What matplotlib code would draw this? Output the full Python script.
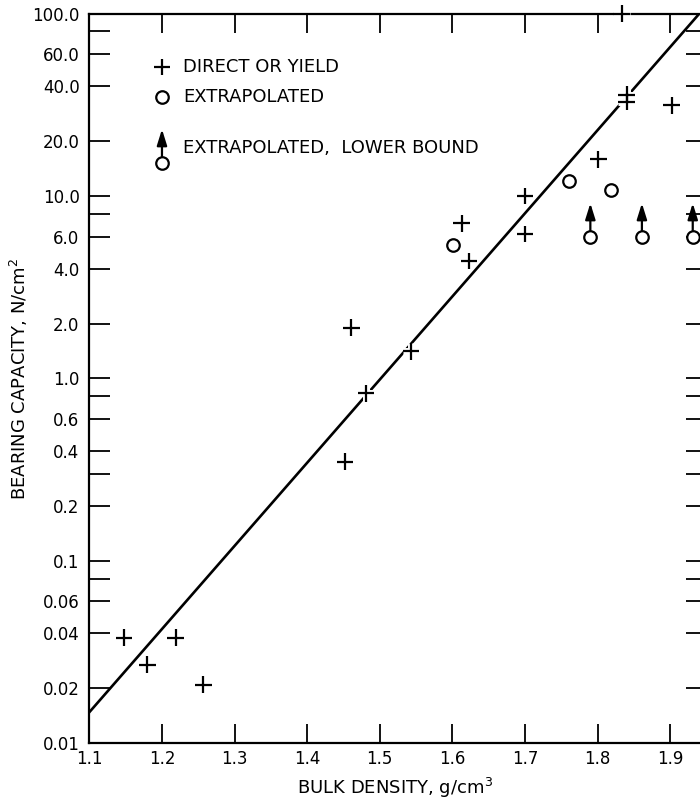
import matplotlib
matplotlib.use("Agg")
import matplotlib.pyplot as plt
import matplotlib.patheffects as pe
from matplotlib.transforms import ScaledTranslation

# measured points, bulk density (g/cm3) vs bearing capacity (N/cm2)
direct_x = [1.148, 1.180, 1.219, 1.257, 1.452, 1.461, 1.481, 1.543, 1.613,
            1.623, 1.700, 1.700, 1.801, 1.833, 1.840, 1.840, 1.902]
direct_y = [0.038, 0.027, 0.038, 0.021, 0.35, 1.90, 0.83, 1.41, 7.1,
            4.4, 10.0, 6.2, 15.9, 100.0, 36.0, 33.0, 31.4]

extrap_x = [1.601, 1.761, 1.819]
extrap_y = [5.4, 12.1, 10.8]

lower_x = [1.790, 1.861, 1.931]
lower_y = [6.0, 6.0, 6.0]

# fitted line end points
fit_x = [1.10, 1.94]
fit_y = [0.0148, 100.0]

x_ticks = [1.1, 1.2, 1.3, 1.4, 1.5, 1.6, 1.7, 1.8, 1.9]
y_ticks = [100, 60, 40, 20, 10, 6, 4, 2, 1, 0.6, 0.4, 0.2, 0.1, 0.06, 0.04, 0.02, 0.01]
y_tick_labels = ["100.0", "60.0", "40.0", "20.0", "10.0", "6.0", "4.0", "2.0", "1.0",
                 "0.6", "0.4", "0.2", "0.1", "0.06", "0.04", "0.02", "0.01"]
y_minor = [80, 8, 0.8, 0.3, 0.08]

plt.rcParams['font.family'] = ['DejaVu Sans']

fig = plt.figure(figsize=(7, 8.11), dpi=100)
ax = fig.add_axes([89.3 / 700, (811 - 743.3) / 811, (700 - 89.3) / 700, 729.6 / 811])

halo = [pe.Stroke(linewidth=5, foreground='white'), pe.Normal()]

ax.plot(fit_x, fit_y, color='black', linewidth=1.9, zorder=2)
ax.plot(direct_x, direct_y, linestyle='none', marker='+', markersize=12,
        markeredgewidth=1.6, color='black', clip_on=False, zorder=4,
        path_effects=halo)
ax.plot(extrap_x, extrap_y, linestyle='none', marker='o', markersize=9,
        markeredgewidth=1.6, markerfacecolor='white', color='black', zorder=3)
ax.plot(lower_x, lower_y, linestyle='none', marker='o', markersize=9,
        markeredgewidth=1.6, markerfacecolor='white', color='black',
        clip_on=False, zorder=3)

arrow_props = dict(arrowstyle='-|>,head_length=0.8,head_width=0.25',
                   mutation_scale=12, color='black', lw=1.6,
                   shrinkA=0, shrinkB=0)
tip = ax.transData + ScaledTranslation(0, 24 / 72, fig.dpi_scale_trans)
base = ax.transData + ScaledTranslation(0, 4.5 / 72, fig.dpi_scale_trans)
for x, y in zip(lower_x, lower_y):
    ax.annotate('', xy=(x, y), xycoords=tip, xytext=(x, y), textcoords=base,
                arrowprops=arrow_props, annotation_clip=False)

# legend drawn by hand
ax.plot([0.119], [0.927], transform=ax.transAxes, marker='+', markersize=12,
        markeredgewidth=1.6, color='black')
ax.plot([0.119], [0.886], transform=ax.transAxes, marker='o', markersize=9,
        markeredgewidth=1.6, markerfacecolor='white', color='black')
ax.plot([0.119], [0.796], transform=ax.transAxes, marker='o', markersize=9,
        markeredgewidth=1.6, markerfacecolor='white', color='black')
leg_tip = ax.transAxes + ScaledTranslation(0, 24 / 72, fig.dpi_scale_trans)
leg_base = ax.transAxes + ScaledTranslation(0, 4.5 / 72, fig.dpi_scale_trans)
ax.annotate('', xy=(0.119, 0.796), xycoords=leg_tip, xytext=(0.119, 0.796),
            textcoords=leg_base, arrowprops=arrow_props)
ax.text(0.1534, 0.927, "DIRECT OR YIELD", transform=ax.transAxes,
        fontsize=13, va='center')
ax.text(0.1534, 0.886, "EXTRAPOLATED", transform=ax.transAxes,
        fontsize=13, va='center')
ax.text(0.1534, 0.816, "EXTRAPOLATED,  LOWER BOUND", transform=ax.transAxes,
        fontsize=13, va='center')

ax.set_yscale('log')
ax.set_xlim(1.1, 1.941)
ax.set_ylim(0.01, 100)
ax.set_xticks(x_ticks)
ax.set_xticklabels([f"{v:.1f}" for v in x_ticks])
ax.set_yticks(y_ticks)
ax.set_yticklabels(y_tick_labels)
ax.set_yticks(y_minor, minor=True)
ax.yaxis.set_minor_formatter(plt.NullFormatter())

ax.tick_params(axis='x', which='both', direction='in', top=True, bottom=True,
               length=14, width=1.3, labelsize=12, pad=5)
ax.tick_params(axis='y', which='both', direction='in', left=True, right=False,
               length=15, width=1.3, labelsize=12, pad=7)

right = ax.secondary_yaxis('right')
right.set_yticks(y_ticks + y_minor)
right.tick_params(direction='in', length=10, width=1.3, labelright=False)
right.spines['right'].set_visible(False)
ax.spines['right'].set_visible(False)
for side in ['left', 'top', 'bottom']:
    ax.spines[side].set_linewidth(1.6)

ax.set_xlabel("BULK DENSITY, g/cm$^3$", fontsize=13)
ax.set_ylabel("BEARING CAPACITY, N/cm$^2$", fontsize=13)
ax.xaxis.set_label_coords(0.5, -0.045)
ax.yaxis.set_label_coords(-0.097, 0.5)

fig.savefig("out.png", dpi=100)
